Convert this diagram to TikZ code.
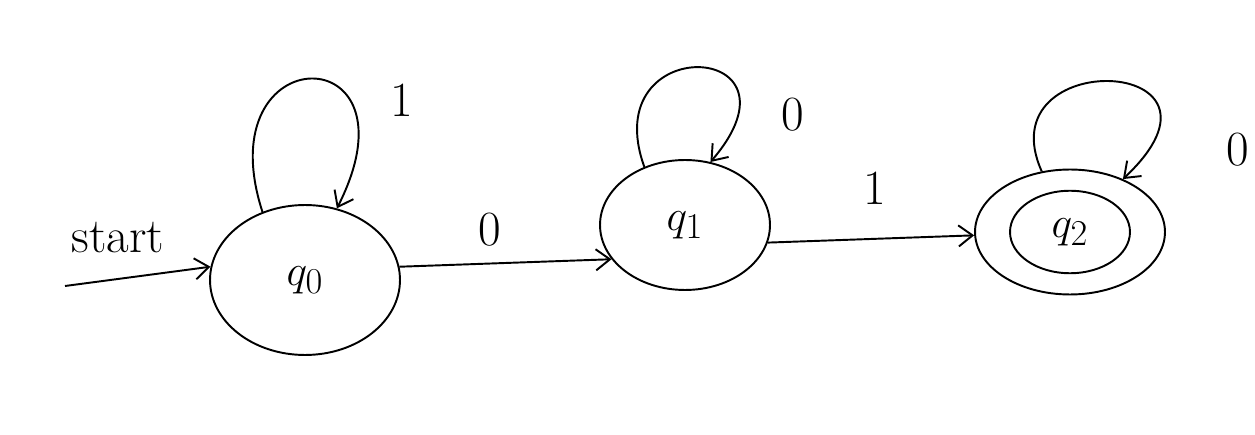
\documentclass[tikz,border=0pt]{standalone}
\usetikzlibrary{shapes.geometric,arrows.meta}
\begin{document}
\begin{tikzpicture}[x=0.02cm,y=-0.02cm,
  line width=1.1pt,
  state/.style={draw,ellipse,font=\fontsize{32}{38}\selectfont},
  edge/.style={-{Straight Barb[length=8pt,width=12pt]}},
  lbl/.style={font=\fontsize{28}{34}\selectfont}]
\useasboundingbox (0,0) rectangle (1255,435);
\node[state,minimum width=3.8cm,minimum height=3.0cm] (q0) at (305,280) {$q_0$};
\node[state,minimum width=3.4cm,minimum height=2.6cm] (q1) at (685,225) {$q_1$};
\node[state,minimum width=3.8cm,minimum height=2.5cm] (q2) at (1070,232) {};
\node[state,minimum width=2.4cm,minimum height=1.65cm] (q2i) at (1070,232) {$q_2$};
\coordinate (s) at (65,286);
\draw[edge] (s) -- (q0.172);
\node[lbl] (st) at (118,238) {start};
\draw[edge] (q0.8) -- (q1.205);
\node[lbl] (l01) at (490,230) {0};
\draw[edge] (q1.-12) -- (q2.182);
\node[lbl] (l12) at (875,188) {1};
\draw[edge] (q0.122) .. controls (205,35) and (425,35) .. (q0.66);
\node[lbl] (l00) at (402,100) {1};
\draw[edge] (q1.125) .. controls (595,30) and (815,40) .. (q1.68);
\node[lbl] (l11) at (793,115) {0};
\draw[edge] (q2.115) .. controls (985,45) and (1255,55) .. (q2.45);
\node[lbl] (l22) at (1238,150) {0};
\end{tikzpicture}
\end{document}
